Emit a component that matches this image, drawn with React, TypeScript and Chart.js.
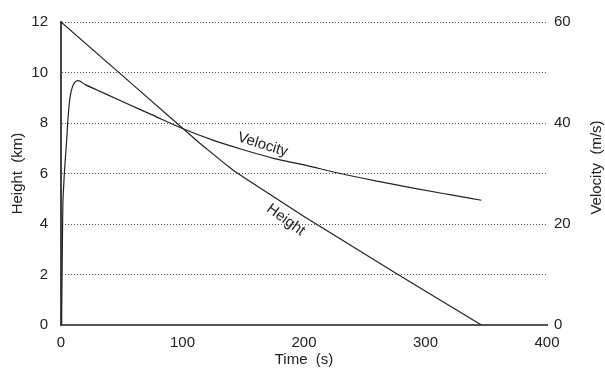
import React, { useEffect, useRef } from 'react';
import { Chart, registerables } from 'chart.js';

Chart.register(...registerables);

const FONT = '"Liberation Sans", Arial, Helvetica, sans-serif';
const INK = '#222222';

// Height series (km) vs time (s)
const heightTime = [0, 60, 114, 132, 142, 155, 200, 279, 346];
const heightKm = [12, 9.48, 7.21, 6.5, 6.12, 5.7, 4.3, 1.95, 0];

// Velocity series (m/s) vs time (s)
const velocityTime = [0.5, 1.4, 2.3, 3.3, 4.7, 5.5, 7.4, 9.5, 11.5, 14, 20, 30, 50, 75, 100, 125, 150, 175, 200, 230, 260, 290, 320, 346];
const velocityMs = [0, 22, 28, 32, 36.7, 40, 45, 47.2, 48.1, 48.4, 47.6, 46.5, 44.3, 41.6, 38.9, 36.6, 34.7, 33.0, 31.7, 30.0, 28.5, 27.1, 25.8, 24.7];

// Axis ranges / ticks
const timeTicks = [0, 100, 200, 300, 400];
const heightTicks = [0, 2, 4, 6, 8, 10, 12];
const velocityTicks = [0, 20, 40, 60];

const xTitle = 'Time  (s)';
const leftTitle = 'Height  (km)';
const rightTitle = 'Velocity  (m/s)';

// In-plot series labels (data coordinates)
const seriesLabels = [
  { text: 'Velocity', t: 166, value: 35.7, axis: 'y2', angle: 17 },
  { text: 'Height', t: 185, value: 4.16, axis: 'y', angle: 36 },
];

const textPlugin = {
  id: 'customText',
  afterDraw(chart: any) {
    const { ctx, chartArea, scales } = chart;
    const midY = (chartArea.top + chartArea.bottom) / 2;
    const midX = (chartArea.left + chartArea.right) / 2;
    ctx.save();
    ctx.fillStyle = INK;
    ctx.font = `15px ${FONT}`;
    ctx.textAlign = 'center';
    ctx.textBaseline = 'middle';
    ctx.fillText(xTitle, midX, chartArea.bottom + 35);

    ctx.save();
    ctx.translate(18, midY);
    ctx.rotate(-Math.PI / 2);
    ctx.fillText(leftTitle, 0, 0);
    ctx.restore();

    ctx.save();
    ctx.translate(597, midY - 6);
    ctx.rotate(-Math.PI / 2);
    ctx.fillText(rightTitle, 0, 0);
    ctx.restore();

    for (const lab of seriesLabels) {
      const px = scales.x.getPixelForValue(lab.t);
      const py = scales[lab.axis].getPixelForValue(lab.value);
      ctx.save();
      ctx.translate(px, py);
      ctx.rotate((lab.angle * Math.PI) / 180);
      ctx.fillText(lab.text, 0, 0);
      ctx.restore();
    }
    ctx.restore();
  },
};

export default function App() {
  const ref = useRef<HTMLCanvasElement | null>(null);

  useEffect(() => {
    if (!ref.current) return;
    const tickFont = { family: FONT, size: 15 };
    const chart = new Chart(ref.current, {
      type: 'line',
      data: {
        datasets: [
          {
            label: 'Height',
            data: heightTime.map((t, i) => ({ x: t, y: heightKm[i] })),
            yAxisID: 'y',
            borderColor: INK,
            borderWidth: 1.2,
            pointRadius: 0,
            tension: 0,
            fill: false,
          },
          {
            label: 'Velocity',
            data: velocityTime.map((t, i) => ({ x: t, y: velocityMs[i] })),
            yAxisID: 'y2',
            borderColor: INK,
            borderWidth: 1.2,
            pointRadius: 0,
            cubicInterpolationMode: 'monotone',
            fill: false,
          },
        ],
      },
      options: {
        responsive: false,
        animation: false,
        events: [],
        layout: { padding: { top: 17, left: 0, right: 0, bottom: 0 } },
        plugins: { legend: { display: false }, tooltip: { enabled: false }, title: { display: false } },
        scales: {
          x: {
            type: 'linear',
            min: timeTicks[0],
            max: timeTicks[timeTicks.length - 1],
            afterBuildTicks: (s: any) => { s.ticks = timeTicks.map((v) => ({ value: v })); },
            grid: { display: false, drawTicks: false },
            border: { display: true, color: '#555', width: 2 },
            ticks: { font: tickFont, color: INK, padding: 9, maxRotation: 0 },
            afterFit: (s: any) => { s.height = 45; },
          },
          y: {
            type: 'linear',
            position: 'left',
            min: heightTicks[0],
            max: heightTicks[heightTicks.length - 1],
            afterBuildTicks: (s: any) => { s.ticks = heightTicks.map((v) => ({ value: v })); },
            grid: { display: true, color: '#555', lineWidth: 1, drawTicks: false },
            border: { display: true, color: '#444', width: 2, dash: [1, 2] },
            ticks: { font: tickFont, color: INK, padding: 13 },
            afterFit: (s: any) => { s.width = 61; },
          },
          y2: {
            type: 'linear',
            position: 'right',
            min: velocityTicks[0],
            max: velocityTicks[velocityTicks.length - 1],
            afterBuildTicks: (s: any) => { s.ticks = velocityTicks.map((v) => ({ value: v })); },
            grid: { display: false, drawTicks: false },
            border: { display: false },
            ticks: { font: tickFont, color: INK, padding: 7 },
            afterFit: (s: any) => { s.width = 58; },
          },
        },
      } as any,
      plugins: [textPlugin],
    });
    return () => chart.destroy();
  }, []);

  return (
    <div style={{ position: 'absolute', left: 0, top: 0, width: 605, height: 370, background: '#fff' }}>
      <canvas ref={ref} width={605} height={370} style={{ display: 'block' }} />
    </div>
  );
}
